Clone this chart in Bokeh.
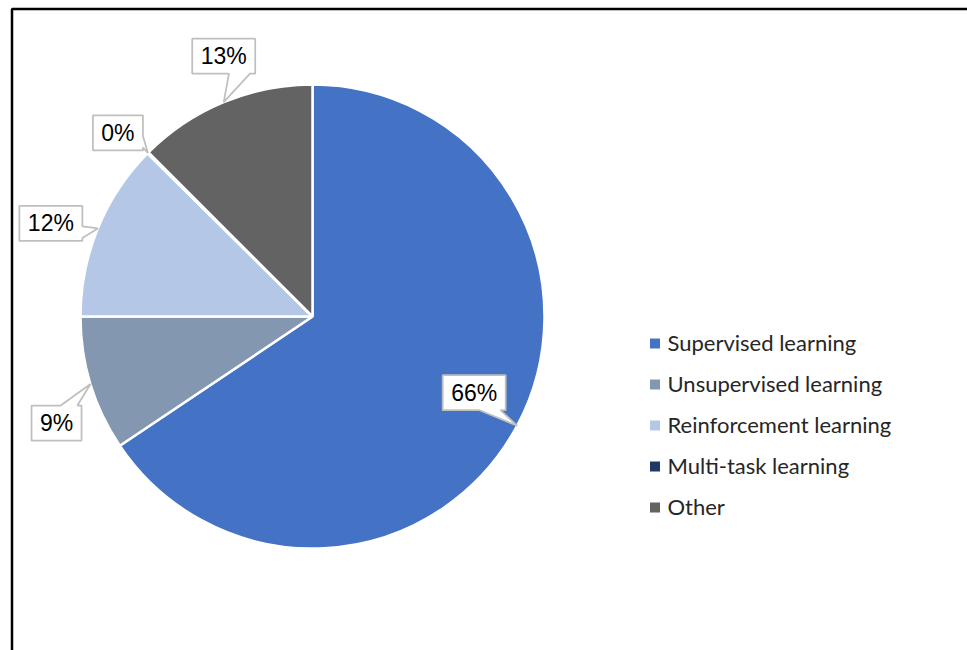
import math
from bokeh.plotting import figure
from bokeh.models import Range1d
from bokeh.core.properties import value
from bokeh.embed import file_html
from bokeh.resources import INLINE

# ---- data ----
categories = ["Supervised learning", "Unsupervised learning", "Reinforcement learning",
              "Multi-task learning", "Other"]
shares = [65.6, 9.4, 12.4, 0.1, 12.5]
pct_labels = ["66%", "9%", "12%", "0%", "13%"]
colors = ["#4472C4", "#8497B0", "#B4C7E7", "#203864", "#636363"]

# ---- layout / style ----
W, H = 967, 650
CX, CY = 312, 316          # pie centre in screen pixels
R = 232                    # pie radius (px)
# offset of each callout box centre from its slice tip (screen px, y down)
box_offsets = [(-43, -33), (-34, 39), (-47, -5), (-30, -20), (0, -46)]
box_h = 35

p = figure(width=W, height=H, x_range=Range1d(-CX, W - CX), y_range=Range1d(CY - H, CY),
           output_backend="svg", toolbar_location=None, min_border=0,
           x_axis_location=None, y_axis_location=None)
p.grid.visible = False
p.outline_line_color = None
p.background_fill_color = "white"
p.border_fill_color = "white"


def to_data(sx, sy):
    return sx - CX, CY - sy


# frame of the chart area (only top & left visible in the window)
fx = [to_data(11.5, 700)[0], to_data(11.5, 8.5)[0], to_data(1100, 8.5)[0]]
fy = [to_data(11.5, 700)[1], to_data(11.5, 8.5)[1], to_data(1100, 8.5)[1]]
p.line(fx, fy, line_color="black", line_width=2.5)

# ---- pie ----
total = sum(shares)
starts, ends, mids = [], [], []
cum = 0.0
for s in shares:
    a0 = math.pi / 2 - 2 * math.pi * cum / total
    a1 = math.pi / 2 - 2 * math.pi * (cum + s) / total
    starts.append(a0)
    ends.append(a1)
    mids.append((a0 + a1) / 2)
    cum += s

p.wedge(x=0, y=0, radius=R, start_angle=starts, end_angle=ends, direction="clock",
        fill_color=colors, line_color="white", line_width=2.5)


# ---- callout labels ----
def callout(cx, cy, w, h, tx, ty):
    l, r, t, b = cx - w / 2, cx + w / 2, cy - h / 2, cy + h / 2
    dx = (tx - cx) / (w / 2)
    dy = (ty - cy) / (h / 2)
    TL, TR, BR, BL = (l, t), (r, t), (r, b), (l, b)
    tip = (tx, ty)
    if abs(dx) >= abs(dy):
        if ty < cy:
            y1, y2 = t + h / 12, t + 5 * h / 12
        else:
            y1, y2 = t + 7 * h / 12, t + 11 * h / 12
        if dx > 0:
            pts = [TL, TR, (r, y1), tip, (r, y2), BR, BL]
        else:
            pts = [TL, TR, BR, BL, (l, y2), tip, (l, y1)]
    else:
        if tx < cx:
            x1, x2 = l + w / 12, l + 5 * w / 12
        else:
            x1, x2 = l + 7 * w / 12, l + 11 * w / 12
        if dy < 0:
            pts = [TL, (x1, t), tip, (x2, t), TR, BR, BL]
        else:
            pts = [TL, TR, BR, (x2, b), tip, (x1, b), BL]
    xs = [to_data(*q)[0] for q in pts]
    ys = [to_data(*q)[1] for q in pts]
    return xs, ys


pxs, pys, lx, ly = [], [], [], []
for i, lab in enumerate(pct_labels):
    tx = CX + R * math.cos(mids[i])
    ty = CY - R * math.sin(mids[i])
    ox, oy = box_offsets[i]
    bcx, bcy = tx + ox, ty + oy
    w = 24 + 13 * len(lab)
    xs, ys = callout(bcx, bcy, w, box_h, tx, ty)
    pxs.append(xs)
    pys.append(ys)
    dxy = to_data(bcx, bcy)
    lx.append(dxy[0])
    ly.append(dxy[1])

p.patches(pxs, pys, fill_color="white", line_color="#BFBFBF", line_width=1.75)
p.text(x=lx, y=ly, text=pct_labels, text_align="center", text_baseline="middle",
       text_font=value("Liberation Sans"), text_font_size="23px", text_color="#000000")

# ---- legend ----
leg_sq_x = [to_data(654.5, 0)[0]] * len(categories)
leg_y = [to_data(0, 343 + 41 * i)[1] for i in range(len(categories))]
leg_ty = [to_data(0, 341.5 + 41 * i)[1] for i in range(len(categories))]
leg_tx = [to_data(667, 0)[0]] * len(categories)
p.rect(x=leg_sq_x, y=leg_y, width=10, height=10, fill_color=colors, line_color=None)
p.text(x=leg_tx, y=leg_ty, text=categories, text_align="left", text_baseline="middle",
       text_font=value("Lato"), text_font_size="22px", text_color="#262626")

open("out.html", "w").write(file_html(p, INLINE))
